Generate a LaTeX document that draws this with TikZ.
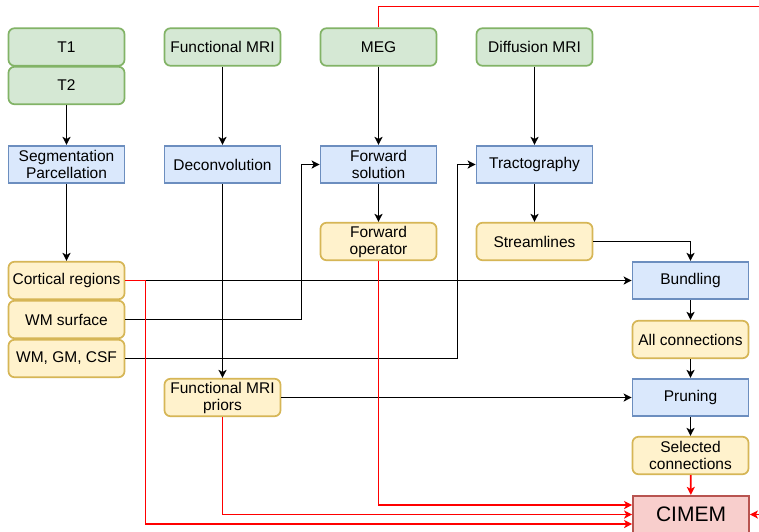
\documentclass[tikz,border=0pt]{standalone}
\usepackage{fontspec}
\setmainfont{Liberation Sans}
\usetikzlibrary{arrows.meta,calc}
\definecolor{gfill}{HTML}{D5E8D4}\definecolor{gdraw}{HTML}{82B366}
\definecolor{bfill}{HTML}{DAE8FC}\definecolor{bdraw}{HTML}{6C8EBF}
\definecolor{yfill}{HTML}{FFF2CC}\definecolor{ydraw}{HTML}{D6B656}
\definecolor{rfill}{HTML}{F8CECC}\definecolor{rdraw}{HTML}{B85450}
\definecolor{rline}{HTML}{FF0000}
\tikzset{
  box/.style={minimum width=116pt,minimum height=37.5pt,inner sep=0pt,align=center,line width=1.7pt,
    font=\fontsize{15.5}{17}\selectfont},
  gbox/.style={box,rounded corners=6pt,fill=gfill,draw=gdraw},
  bbox/.style={box,fill=bfill,draw=bdraw},
  ybox/.style={box,rounded corners=6pt,fill=yfill,draw=ydraw},
  rbox/.style={box,fill=rfill,draw=rdraw,font=\fontsize{21}{24}\selectfont},
  arr/.style={line width=1.7pt,-{Stealth[length=8pt,width=8pt,inset=2pt]}},
  redarr/.style={arr,draw=rline,color=rline},
}
\begin{document}
\begin{tikzpicture}[x={(1pt,0)},y={(0,-1pt)}]
\useasboundingbox (0,0) rectangle (759,531);
\clip (0,0) rectangle (759,531);
\fill[white] (0,0) rectangle (759,531);
% nodes
\node[gbox] (t1) at (66.5,47) {T1};
\node[gbox] (t2) at (66.5,85.5) {T2};
\node[gbox] (fmri) at (222.5,47) {Functional MRI};
\node[gbox] (meg) at (378.5,47) {MEG};
\node[gbox] (dmri) at (534.5,47) {Diffusion MRI};
\node[bbox] (seg) at (66.5,164.5) {Segmentation\\Parcellation};
\node[bbox] (dec) at (222.5,164.5) {Deconvolution};
\node[bbox] (fsol) at (378.5,164.5) {Forward\\solution};
\node[bbox] (tract) at (534.5,164.5) {Tractography};
\node[ybox] (fop) at (378.5,241.5) {Forward\\operator};
\node[ybox] (stream) at (534.5,241.5) {Streamlines};
\node[ybox] (cort) at (66.5,280.5) {Cortical regions};
\node[ybox] (wms) at (66.5,319.5) {WM surface};
\node[ybox] (wmg) at (66.5,358.5) {WM, GM, CSF};
\node[ybox] (fpri) at (222.5,397.5) {Functional MRI\\priors};
\node[bbox] (bund) at (690.5,280.5) {Bundling};
\node[ybox] (allc) at (690.5,339.5) {All connections};
\node[bbox] (prun) at (690.5,397.5) {Pruning};
\node[ybox] (selc) at (690.5,455.5) {Selected\\connections};
\node[rbox] (cimem) at (691,514.5) {CIMEM};
% black connectors
\draw[arr] (t2) -- (seg);
\draw[arr] (fmri) -- (dec);
\draw[arr] (meg) -- (fsol);
\draw[arr] (dmri) -- (tract);
\draw[arr] (seg) -- (cort);
\draw[arr] (dec) -- (fpri);
\draw[arr] (fsol) -- (fop);
\draw[arr] (tract) -- (stream);
\draw[arr] (stream.east) -| (bund.north);
\draw[arr] (cort.east) -- (bund.west);
\draw[arr] (wms.east) -- ++(176,0) |- (fsol.west);
\draw[arr] (wmg.east) -- ++(332,0) |- (tract.west);
\draw[arr] (fpri.east) -- (prun.west);
\draw[arr] (bund) -- (allc);
\draw[arr] (allc) -- (prun);
\draw[arr] (prun) -- (selc);
% red connectors
\draw[redarr] (selc) -- (cimem);
\draw[redarr] (cort.east) -- ++(20,0) |- ($(cimem.west)+(0,9.5)$);
\draw[redarr] (fpri.south) |- (cimem.west);
\draw[redarr] (fop.south) |- ($(cimem.west)+(0,-9.5)$);
\draw[redarr] (meg.north) -- ++(0,-21) -| ($(cimem.east)+(30,0)$) -- (cimem.east);
\end{tikzpicture}
\end{document}
